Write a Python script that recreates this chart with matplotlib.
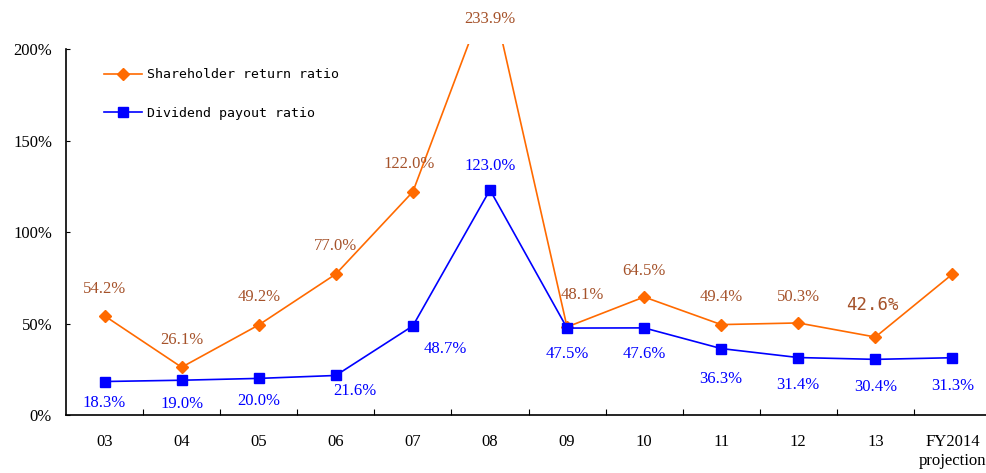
import matplotlib
matplotlib.use("Agg")
import matplotlib.pyplot as plt

categories = ['03', '04', '05', '06', '07', '08', '09', '10', '11', '12', '13', 'FY2014\nprojection']
shareholder_return = [54.2, 26.1, 49.2, 77.0, 122.0, 233.9, 48.1, 64.5, 49.4, 50.3, 42.6, 77.0]
dividend_payout = [18.3, 19.0, 20.0, 21.6, 48.7, 123.0, 47.5, 47.6, 36.3, 31.4, 30.4, 31.3]
# which points get a label (last orange point has none)
sr_labels = ['54.2%', '26.1%', '49.2%', '77.0%', '122.0%', '233.9%', '48.1%', '64.5%', '49.4%', '50.3%', '42.6%', None]
dp_labels = ['18.3%', '19.0%', '20.0%', '21.6%', '48.7%', '123.0%', '47.5%', '47.6%', '36.3%', '31.4%', '30.4%', '31.3%']

# label offsets from the point, in pixels (dx, dy down-positive)
sr_off = [(0, -27), (0, -27), (0, -28), (0, -28), (-4, -28), (0, 32), (15, -32),
          (0, -26), (0, -28), (0, -26), (-3, -32), (0, 0)]
dp_off = [(0, 21), (0, 24), (0, 23), (19, 16), (32, 23), (0, -24), (0, 26),
          (0, 26), (0, 30), (0, 27), (0, 28), (0, 28)]

orange = '#FF6A00'
brown = '#A5522A'
blue = '#0000FF'
serif = 'Liberation Serif'
gothic = 'DejaVu Sans Mono'

fig = plt.figure(figsize=(9.86, 4.73), dpi=100)
ax = fig.add_axes([66 / 986, 58 / 473, 925 / 986, 366 / 473])

x = list(range(len(categories)))
ax.plot(x, shareholder_return, color=orange, lw=1.2, marker='D', ms=6,
        label='Shareholder return ratio', clip_on=False, zorder=3)
ax.plot(x, dividend_payout, color=blue, lw=1.2, marker='s', ms=6.5,
        label='Dividend payout ratio', clip_on=False, zorder=3)

px = 72 / 100
for i, (v, lab) in enumerate(zip(shareholder_return, sr_labels)):
    if lab is None:
        continue
    dx, dy = sr_off[i]
    fam = gothic if lab == '42.6%' else serif
    kw = {}
    if i == 5:
        kw['bbox'] = dict(facecolor='white', edgecolor='none', pad=12)
    ax.annotate(lab, (i, v), xytext=(dx * px, -dy * px), textcoords='offset points',
                ha='center', va='center', color=brown,
                fontsize=12.5 if fam == gothic else 12,
                family=fam, annotation_clip=False, zorder=5, **kw)
for i, (v, lab) in enumerate(zip(dividend_payout, dp_labels)):
    dx, dy = dp_off[i]
    ax.annotate(lab, (i, v), xytext=(dx * px, -dy * px), textcoords='offset points',
                ha='center', va='center', color=blue, fontsize=12,
                family=serif, annotation_clip=False, zorder=5)

ax.set_xlim(-0.5, len(categories) - 0.5)
ax.set_ylim(0, 200)
ax.set_yticks([0, 50, 100, 150, 200])
ax.set_yticklabels(['0%', '50%', '100%', '150%', '200%'], family=serif, fontsize=12)
ax.tick_params(axis='y', direction='in', length=3, pad=10)

ax.set_xticks([i + 0.5 for i in x[:-1]])
ax.set_xticklabels([])
ax.set_xticks(x, minor=True)
ax.set_xticklabels(categories, minor=True, family=serif, fontsize=12, linespacing=1.25)
ax.tick_params(axis='x', which='major', direction='in', length=4)
ax.tick_params(axis='x', which='minor', length=0, pad=14)
for lbl in ax.get_xticklabels(minor=True):
    lbl.set_verticalalignment('top')

for s in ['top', 'right']:
    ax.spines[s].set_visible(False)
ax.spines['left'].set_linewidth(1.2)
ax.spines['bottom'].set_linewidth(1.2)

ax.legend(loc='upper left', bbox_to_anchor=(0.028, 0.98), frameon=False,
          prop={'family': gothic, 'size': 9.5}, handlelength=2.9,
          labelspacing=1.95, handletextpad=0.4)

fig.savefig('out.png', dpi=100)
